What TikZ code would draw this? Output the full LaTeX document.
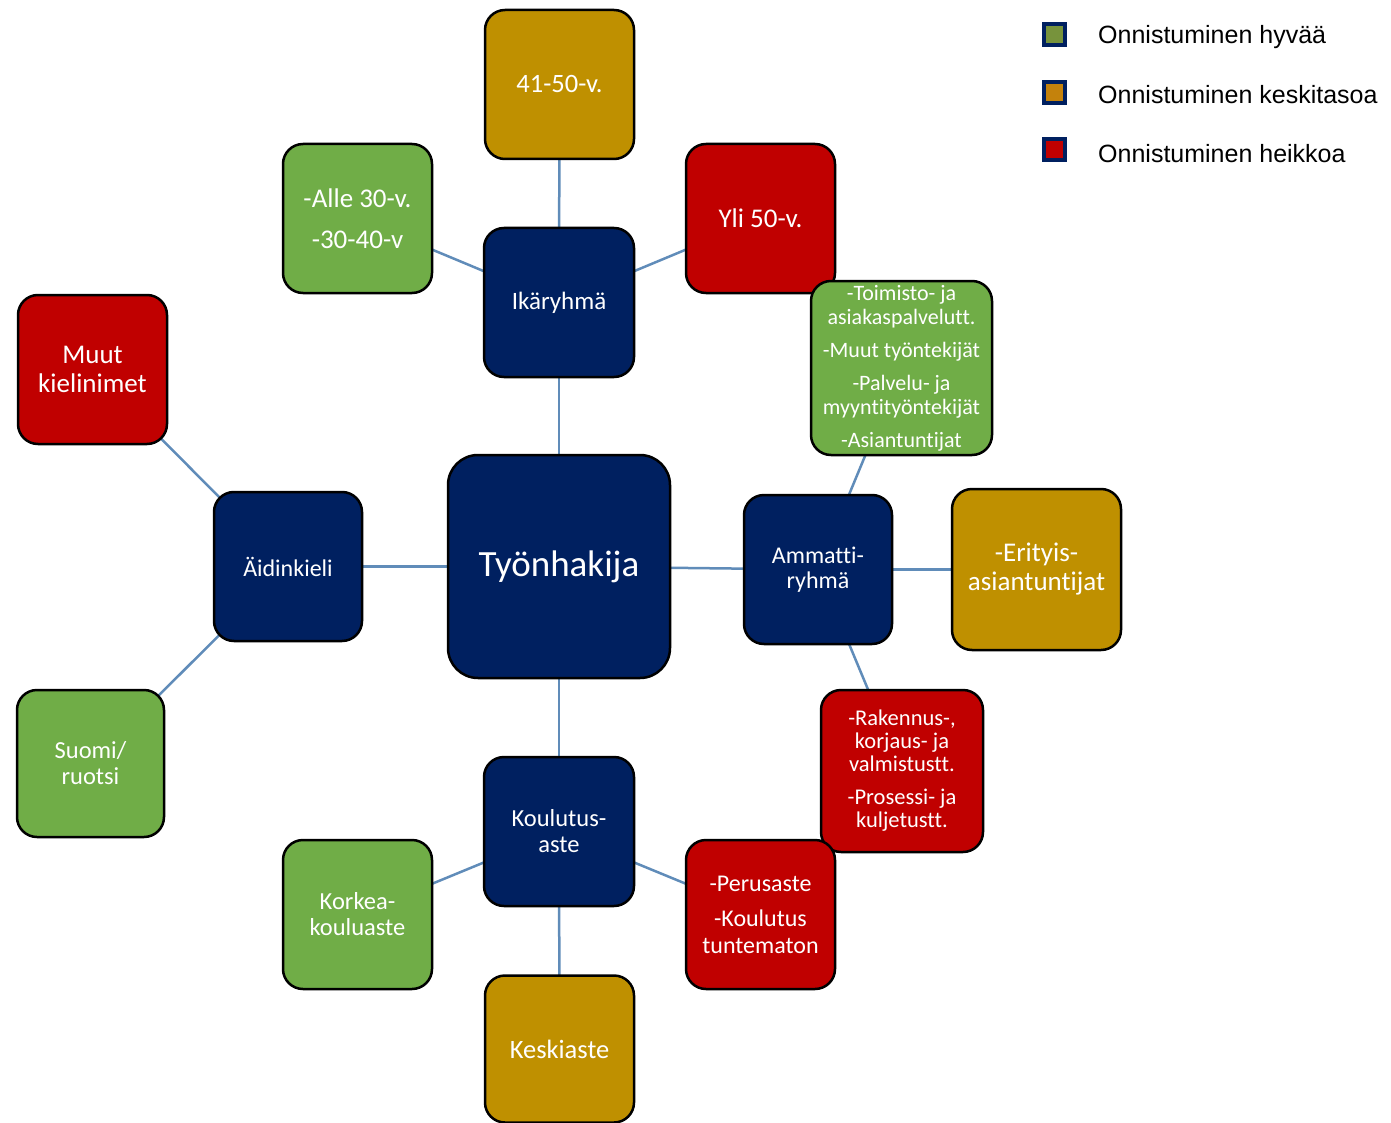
\documentclass[tikz,border=0pt]{standalone}
\usepackage{fontspec}
\setmainfont{Carlito}[Ligatures={NoCommon}]
\newfontfamily\legendfont{Liberation Sans}
\usetikzlibrary{backgrounds}
\definecolor{navyc}{RGB}{0,32,96}
\definecolor{greenc}{RGB}{112,173,71}
\definecolor{goldc}{RGB}{191,144,0}
\definecolor{redc}{RGB}{192,0,0}
\definecolor{linkc}{RGB}{96,140,185}
\definecolor{lgreen}{RGB}{119,147,60}
\definecolor{lgold}{RGB}{196,130,12}
\tikzset{
  box/.style={draw=black, line width=2.5pt, rounded corners=20pt, text=white, align=center,
    inner sep=0pt, minimum width=149pt, minimum height=149pt, font=\fontsize{24}{26}\selectfont},
  navybox/.style={box, fill=navyc},
  greenbox/.style={box, fill=greenc},
  goldbox/.style={box, fill=goldc},
  redbox/.style={box, fill=redc},
  link/.style={draw=linkc, line width=2.5pt},
  legsq/.style={draw=navyc, line width=4pt, minimum size=21pt, inner sep=0pt},
  legtxt/.style={anchor=west, inner sep=0pt, font=\legendfont\fontsize{25}{28}\selectfont, text=black},
}
\begin{document}
\begin{tikzpicture}[x=1pt, y=-1pt]
\useasboundingbox (0,0) rectangle (1391,1123);
% center
\node[navybox, minimum width=222pt, minimum height=223pt, rounded corners=30pt, font=\fontsize{37}{42}\selectfont] (hub) at (559,566.5) {Työnhakija};
% age
\node[navybox, minimum width=150pt, font=\fontsize{25}{28}\selectfont] (age) at (559,302.5) {Ikäryhmä};
\node[goldbox, font=\fontsize{26.5}{29}\selectfont] (a4150) at (559.5,84.5) {41-50-v.};
\node[greenbox, font=\fontsize{27}{29}\selectfont] (alle) at (357.5,218.5) {-Alle 30-v.\\[12pt]-30-40-v};
\node[redbox, font=\fontsize{27}{29}\selectfont] (yli) at (760.5,218.5) {Yli 50-v.};
% language
\node[navybox, minimum width=148pt, font=\fontsize{24}{26}\selectfont] (lang) at (288,566.5) {Äidinkieli};
\node[redbox, font=\fontsize{27}{29}\selectfont] (muut) at (92.5,369.5) {Muut\\kielinimet};
\node[greenbox, minimum width=147pt, minimum height=147pt, font=\fontsize{24.5}{26}\selectfont] (suomi) at (90.5,763.5) {Suomi/\\ruotsi};
% occupation
\node[navybox, minimum width=148pt, font=\fontsize{24}{25}\selectfont] (occ) at (818,569.5) {Ammatti-\\ryhmä};
\node[greenbox, minimum width=181pt, minimum height=174pt, font=\fontsize{22}{24}\selectfont] (toim) at (901.5,368) {-Toimisto- ja\\asiakaspalvelutt.\\[9pt]-Muut työntekijät\\[9pt]-Palvelu- ja\\myyntityöntekijät\\[9pt]-Asiantuntijat};
\node[goldbox, minimum width=169pt, minimum height=161pt, font=\fontsize{27}{29}\selectfont] (erit) at (1036.5,569.5) {-Erityis-\\asiantuntijat};
\node[redbox, minimum width=162pt, minimum height=162pt, font=\fontsize{22.5}{23}\selectfont] (rak) at (902,771) {-Rakennus-,\\korjaus- ja\\valmistustt.\\[10pt]-Prosessi- ja\\kuljetustt.};
% education
\node[navybox, minimum width=150pt, font=\fontsize{24.5}{26}\selectfont] (edu) at (559,831.5) {Koulutus-\\aste};
\node[greenbox, font=\fontsize{24.5}{26}\selectfont] (korkea) at (357.5,914.5) {Korkea-\\kouluaste};
\node[redbox, font=\fontsize{24}{27}\selectfont] (perus) at (760.5,914.5) {-Perusaste\\[8pt]-Koulutus\\tuntematon};
\node[goldbox, minimum height=147pt, font=\fontsize{26.5}{29}\selectfont] (kesk) at (559.5,1049) {Keskiaste};
% connectors
\begin{scope}[on background layer]
\draw[link] (hub.center) -- (age.center);
\draw[link] (age.center) -- (a4150.center);
\draw[link] (age.center) -- (alle.center);
\draw[link] (age.center) -- (yli.center);
\draw[link] (hub.center) -- (lang.center);
\draw[link] (lang.center) -- (muut.center);
\draw[link] (lang.center) -- (suomi.center);
\draw[link] (hub.center) -- (occ.center);
\draw[link] (occ.center) -- (toim.center);
\draw[link] (occ.center) -- (erit.center);
\draw[link] (occ.center) -- (rak.center);
\draw[link] (hub.center) -- (edu.center);
\draw[link] (edu.center) -- (korkea.center);
\draw[link] (edu.center) -- (perus.center);
\draw[link] (edu.center) -- (kesk.center);
\end{scope}
% legend
\node[legsq, fill=lgreen] (lg1) at (1054,35) {};
\node[legsq, fill=lgold] (lg2) at (1054,93) {};
\node[legsq, fill=redc] (lg3) at (1054,150) {};
\node[legtxt] (lt1) at (1098,37) {Onnistuminen hyvää};
\node[legtxt] (lt2) at (1098,95) {Onnistuminen keskitasoa};
\node[legtxt] (lt3) at (1098,154) {Onnistuminen heikkoa};
\end{tikzpicture}
\end{document}
